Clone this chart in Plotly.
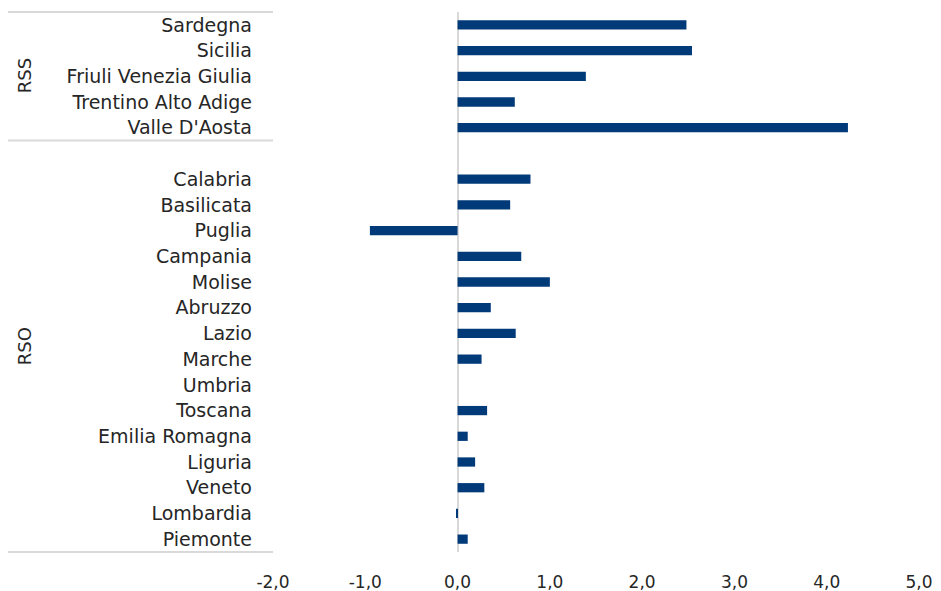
import plotly.graph_objects as go

# categories top to bottom; " " is the blank slot between the two groups
regions = ["Sardegna", "Sicilia", "Friuli Venezia Giulia", "Trentino Alto Adige", "Valle D'Aosta",
           " ",
           "Calabria", "Basilicata", "Puglia", "Campania", "Molise", "Abruzzo", "Lazio", "Marche",
           "Umbria", "Toscana", "Emilia Romagna", "Liguria", "Veneto", "Lombardia", "Piemonte"]
values = [2.48, 2.54, 1.39, 0.62, 4.23,
          None,
          0.79, 0.57, -0.95, 0.69, 1.00, 0.36, 0.63, 0.26,
          0.0, 0.32, 0.11, 0.19, 0.29, -0.01, 0.11]
groups = ["RSS", "RSO"]
group_sizes = [5, 16]
x_ticks = [-2, -1, 0, 1, 2, 3, 4, 5]
x_ticktext = ["-2,0", "-1,0", "0,0", "1,0", "2,0", "3,0", "4,0", "5,0"]

n = len(regions)
# page body has an 8px margin, so the figure is sized/offset to compensate
W, H = 933, 583
L, R, T, B = 265, 22, 4, 39
pw = W - L - R
txt = "#262626"

fig = go.Figure()
fig.add_trace(go.Bar(
    y=regions, x=values, orientation="h",
    marker=dict(color="#003A79", line=dict(width=0)),
    width=0.36,
    showlegend=False,
))

# group separators and labels on the left
line_x0 = (0 - L) / pw
cum = 0
edges = [1.0]
for g, s in zip(groups, group_sizes):
    top = 1 - cum / n
    cum += s
    bot = 1 - cum / n
    edges.append(bot)
    fig.add_annotation(x=(16 - L) / pw, y=(top + bot) / 2, xref="paper", yref="paper",
                       xanchor="center", yanchor="middle",
                       text=g, textangle=-90, showarrow=False,
                       font=dict(size=18, color=txt))
for e in edges:
    fig.add_shape(type="line", xref="paper", yref="paper", x0=line_x0, x1=0, y0=e, y1=e,
                  line=dict(color="#d9d9d9", width=2))

fig.update_layout(
    width=W, height=H,
    margin=dict(l=L, r=R, t=T, b=B),
    plot_bgcolor="white", paper_bgcolor="white",
    font=dict(family="'DejaVu Sans', sans-serif", size=19, color=txt),
    bargap=0.6,
)
fig.update_xaxes(range=[-2, 5], tickvals=x_ticks, ticktext=x_ticktext, showgrid=False,
                 zeroline=True, zerolinecolor="#d9d9d9", zerolinewidth=2,
                 showline=False, ticklabelstandoff=18, tickfont=dict(size=17),
                 automargin=False)
fig.update_yaxes(categoryorder="array", categoryarray=regions, autorange="reversed",
                 showgrid=False, showline=False, ticklabelstandoff=20, automargin=False)

fig.write_html("out.html")
